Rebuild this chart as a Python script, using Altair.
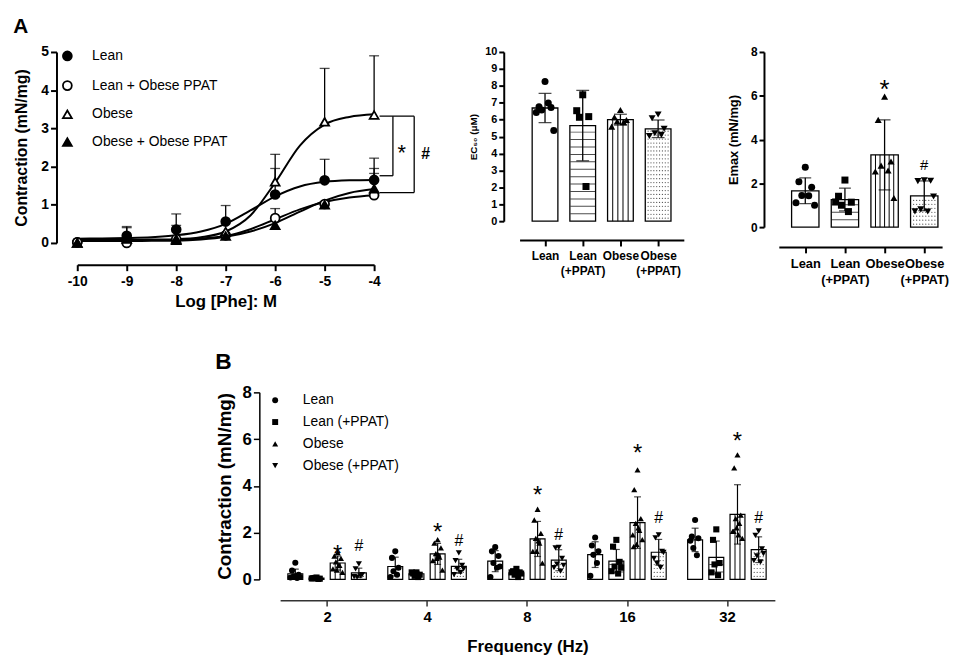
import altair as alt
import numpy as np
import pandas as pd

FONT = "Liberation Sans"

# ---------------- Panel A (left): concentration-response ----------------
dose = [-10, -9, -8, -7, -6, -5, -4]
series_A = ["Lean", "Lean + Obese PPAT", "Obese", "Obese +  Obese PPAT"]
lean_mean = [0.02, 0.19, 0.35, 0.56, 1.27, 1.64, 1.65]
lean_ppat_mean = [0.02, 0.00, 0.10, 0.20, 0.65, 1.02, 1.25]
obese_mean = [0.00, 0.15, 0.10, 0.30, 1.60, 3.17, 3.35]
obese_ppat_mean = [0.00, 0.10, 0.07, 0.18, 0.46, 1.00, 1.42]
lean_err = [None, 0.43, 0.76, 0.98, 1.95, 2.19, 2.22]
lean_ppat_err = [None, None, 0.46, None, 0.90, None, 1.82]
obese_err = [None, 0.40, None, None, 2.32, 4.57, 4.90]
obese_ppat_err = [None, None, None, None, None, None, 1.95]

fit_dose = [-10, -9.5, -9, -8.5, -8, -7.5, -7, -6.5, -6, -5.5, -5, -4.5, -4]
lean_fit = [0.11, 0.12, 0.13, 0.15, 0.20, 0.30, 0.50, 0.85, 1.22, 1.48, 1.60, 1.64, 1.65]
lean_ppat_fit = [0.07, 0.07, 0.07, 0.075, 0.08, 0.12, 0.18, 0.36, 0.62, 0.88, 1.07, 1.19, 1.25]
obese_fit = [0.08, 0.08, 0.08, 0.09, 0.10, 0.15, 0.30, 0.72, 1.58, 2.55, 3.10, 3.30, 3.37]
obese_ppat_fit = [0.05, 0.05, 0.05, 0.055, 0.06, 0.09, 0.16, 0.30, 0.52, 0.82, 1.11, 1.31, 1.41]

bracket_levels = [3.32, 1.76, 1.32]  # Obese / Lean / Obese + Obese PPAT at 10^-4 M

# ---------------- Panel A (middle / right): EC50 and Emax ----------------
cats = ["Lean", "Lean (+PPAT)", "Obese", "Obese (+PPAT)"]

ec50_lean = [8.25, 6.76, 6.72, 6.57, 6.98, 6.43, 5.36]
ec50_lean_ppat = [7.47, 6.53, 6.18, 6.14, 2.05]
ec50_obese = [6.57, 6.14, 5.98, 5.89, 5.85, 5.59]
ec50_obese_ppat = [6.30, 6.08, 5.46, 5.20, 5.10, 5.03]
ec50_mean = [6.69, 5.65, 6.00, 5.46]
ec50_sd = [0.86, 2.08, 0.32, 0.52]

emax_lean = [2.74, 2.07, 1.82, 1.45, 1.43, 1.11, 1.00]
emax_lean_ppat = [2.15, 1.41, 1.14, 1.00, 0.71, 1.15]
emax_obese = [5.96, 4.90, 3.00, 2.81, 2.59, 2.54, 1.33]
emax_obese_ppat = [2.14, 2.10, 2.12, 0.81, 0.71, 0.72, 1.40]
emax_mean = [1.66, 1.26, 3.30, 1.43]
emax_sd = [0.59, 0.52, 1.60, 0.68]
emax_star = [None, None, 6.6, None]
emax_hash = [None, None, None, 2.82]

# ---------------- Panel B: frequency response ----------------
freqs = ["2", "4", "8", "16", "32"]
series_B = ["Lean", "Lean (+PPAT)", "Obese", "Obese (+PPAT)"]
b_lean_pts = [[0.71, 0.38, 0.20, 0.12, 0.06, 0.08, 0.10],
              [1.20, 0.92, 0.50, 0.35, 0.20, 0.10],
              [1.38, 1.20, 1.00, 0.70, 0.50, 0.10, 0.55],
              [1.79, 1.45, 1.20, 1.05, 0.70, 0.15],
              [2.54, 1.83, 1.76, 1.34, 1.03, 1.65]]
b_lean_ppat_pts = [[0.08, 0.05, 0.03, 0.06, 0.02, 0.04],
                   [0.30, 0.25, 0.20, 0.15, 0.10, 0.30],
                   [0.45, 0.35, 0.30, 0.20, 0.10, 0.30, 0.25],
                   [1.69, 1.40, 0.75, 0.55, 0.25, 0.35, 0.50],
                   [2.14, 1.69, 0.70, 0.64, 0.18, 0.30]]
b_obese_pts = [[1.15, 1.00, 0.90, 0.75, 0.60, 0.45, 0.30, 0.40, 0.60],
               [1.70, 1.55, 1.35, 1.10, 0.95, 0.80, 0.40, 0.90, 1.05],
               [3.00, 2.54, 1.97, 1.75, 1.55, 1.20, 0.70, 1.20, 1.65],
               [4.68, 3.84, 2.60, 2.40, 2.10, 1.90, 1.70, 1.50, 2.20, 1.40],
               [5.33, 4.77, 2.75, 2.60, 2.40, 2.05, 1.75, 2.20, 1.90, 2.05]]
b_obese_ppat_pts = [[0.66, 0.45, 0.20, 0.10, 0.15, 0.12],
                    [1.13, 0.80, 0.60, 0.45, 0.30, 0.20, 0.45],
                    [1.37, 1.35, 0.90, 0.65, 0.35, 0.50, 0.60],
                    [1.90, 1.78, 1.20, 0.70, 0.50, 0.90, 1.15],
                    [2.07, 1.88, 1.30, 1.00, 0.75, 0.80, 1.10]]
b_lean_mean = [0.24, 0.55, 0.78, 1.06, 1.69]
b_lean_ppat_mean = [0.05, 0.24, 0.28, 0.78, 0.94]
b_obese_mean = [0.70, 1.09, 1.73, 2.43, 2.78]
b_obese_ppat_mean = [0.28, 0.56, 0.82, 1.16, 1.27]
b_lean_sd = [0.20, 0.40, 0.45, 0.55, 0.50]
b_lean_ppat_sd = [0.03, 0.08, 0.12, 0.50, 0.70]
b_obese_sd = [0.30, 0.45, 0.75, 1.10, 1.27]
b_obese_ppat_sd = [0.20, 0.30, 0.45, 0.55, 0.55]
b_star = [1.34, 2.26, 3.85, 5.64, 6.16]   # '*' above Obese
b_hash = [1.41, 1.65, 1.90, 2.64, 2.61]   # '#' above Obese (+PPAT)


# ======================================================================
def ax(**kw):
    base = dict(domainColor="black", domainWidth=2, tickColor="black", tickWidth=2,
                tickSize=6, labelFont=FONT, labelFontWeight="bold", labelColor="black",
                labelPadding=2, titleFont=FONT, titleFontWeight="bold", titleColor="black",
                grid=False, labelFlush=False, labelOverlap=False)
    base.update(kw)
    return alt.Axis(**base)


def indep(ch):
    return ch.resolve_scale(shape="independent", fill="independent",
                            stroke="independent").resolve_legend(
        shape="independent", fill="independent", stroke="independent")


JIT = [0.0, -0.55, 0.55, -0.3, 0.3, -0.8, 0.8, -0.15, 0.15, -0.65, 0.65]


def pattern_frames(positions, tops, kinds, hw, ppx, ppy):
    """decorative fill patterns of the bars, in data units"""
    h, v, d = [], [], []
    for p, t, k in zip(positions, tops, kinds):
        if k == "h":
            sp = 7.5 / ppy
            for lv in np.arange(sp, t - 0.3 * sp, sp):
                h.append({"px": p, "py": lv})
        elif k == "v":
            n = max(2, int(round(2 * hw * ppx / 5.0)) - 1)
            for xv in np.linspace(p - hw, p + hw, n + 2)[1:-1]:
                v.append({"vx": xv, "vtop": t})
        elif k == "d":
            nx = max(2, int(2 * hw * ppx / 3.2))
            for xv in np.linspace(p - hw, p + hw, nx + 2)[1:-1]:
                for yv in np.arange(3.0 / ppy, t - 1.5 / ppy, 4.0 / ppy):
                    d.append({"dx": xv, "dy": yv})
    return pd.DataFrame(h), pd.DataFrame(v), pd.DataFrame(d)


# ---------------------------- Panel A1 ----------------------------
rows = []
for g, ms, es in zip(series_A, [lean_mean, lean_ppat_mean, obese_mean, obese_ppat_mean],
                     [lean_err, lean_ppat_err, obese_err, obese_ppat_err]):
    for d, m, e in zip(dose, ms, es):
        rows.append({"dose": d, "val": m, "err": e, "grp": g})
dfA = pd.DataFrame(rows)
dfA["err"] = dfA["err"].astype(float)
fit_rows = []
for g, fs in zip(series_A, [lean_fit, lean_ppat_fit, obese_fit, obese_ppat_fit]):
    for d, f in zip(fit_dose, fs):
        fit_rows.append({"dose": d, "val": f, "grp": g})
dfFit = pd.DataFrame(fit_rows)

scXA = alt.Scale(domain=[-10, -4], nice=False, zero=False)
scYA = alt.Scale(domain=[0, 5], nice=False, zero=False)
axXA = ax(values=dose, labelExpr="'' + datum.value", title="Log [Phe]: M", offset=22,
          labelFontSize=14, titleFontSize=17, titlePadding=5, labelPadding=4)
axYA = ax(values=[0, 1, 2, 3, 4, 5], title="Contraction (mN/mg)", offset=21,
          labelFontSize=14, titleFontSize=16, titlePadding=12)


def XA(f):
    return alt.X(f, type="quantitative", scale=scXA, axis=axXA)


def YA(f):
    return alt.Y(f, type="quantitative", scale=scYA, axis=axYA)


legA = alt.Legend(title=None, orient="none", legendX=-17, legendY=-3, labelFont=FONT,
                  labelFontSize=14, labelColor="black", symbolSize=80, symbolStrokeWidth=1.8,
                  symbolStrokeColor="black", rowPadding=12, labelOffset=18, padding=0)

fitL = alt.Chart(dfFit).mark_line(interpolate="monotone", color="black", strokeWidth=2).encode(
    x=XA("dose"), y=YA("val"), detail="grp:N")
errL = alt.Chart(dfA).transform_filter("isValid(datum.err)").mark_rule(
    color="black", strokeWidth=1.3).encode(x=XA("dose"), y=YA("val"), y2="err:Q")
capL = alt.Chart(dfA).transform_filter("isValid(datum.err)").mark_tick(
    orient="horizontal", size=10, thickness=1.3, color="black").encode(x=XA("dose"), y=YA("err"))
ptsL = alt.Chart(dfA).mark_point(filled=False, size=80, strokeWidth=1.8,
                                 opacity=1).encode(
    x=XA("dose"), y=YA("val"),
    shape=alt.Shape("grp:N", scale=alt.Scale(domain=series_A,
                    range=["circle", "circle", "triangle-up", "triangle-up"]), legend=legA),
    fill=alt.Fill("grp:N", scale=alt.Scale(domain=series_A,
                  range=["black", "white", "white", "black"]), legend=legA),
    stroke=alt.Stroke("grp:N", scale=alt.Scale(domain=series_A,
                      range=["black", "black", "black", "black"]), legend=legA))

last = dose[-1]
top, b1, b2 = bracket_levels
dfBr = pd.DataFrame([
    {"bx": last + 0.11, "bx2": last + 0.81, "by": top, "by2": top},
    {"bx": last + 0.38, "bx2": last + 0.38, "by": top, "by2": b1},
    {"bx": last + 0.11, "bx2": last + 0.38, "by": b1, "by2": b1},
    {"bx": last + 0.81, "bx2": last + 0.81, "by": top, "by2": b2},
    {"bx": last + 0.11, "bx2": last + 0.81, "by": b2, "by2": b2},
])
brL = alt.Chart(dfBr).mark_rule(color="black", strokeWidth=1.3).encode(
    x=XA("bx"), x2="bx2:Q", y=YA("by"), y2="by2:Q")
dfStarA = pd.DataFrame([{"tx": last + 0.56, "ty": (top + b1) / 2, "t": "*"}])
dfHashA = pd.DataFrame([{"tx": last + 1.04, "ty": (top + b2) / 2, "t": "#"}])
starA = alt.Chart(dfStarA).mark_text(font=FONT, fontSize=22, dy=7, color="black").encode(
    x=XA("tx"), y=YA("ty"), text="t:N")
hashA = alt.Chart(dfHashA).mark_text(font=FONT, fontSize=16, fontWeight="bold",
                                     color="black").encode(x=XA("tx"), y=YA("ty"), text="t:N")

A1 = alt.layer(fitL, errL, capL, ptsL, brL, starA, hashA).properties(
    width=300, height=193,
    title=alt.TitleParams("A", anchor="start", frame="bounds", font=FONT, fontSize=21,
                          fontWeight="bold", color="black", offset=8))


# ---------------------- bar panels (EC50, Emax) ----------------------
def bar_panel(pts_lists, means, sds, xdom, width, height, ydom, yticks, ytitle, ytitle_size,
              tick_font, x_font, hw, cap, offset_y, offset_x, shape_field, star=None,
              hashes=None, ytitle_pad=4, pt_size=50):
    ppx = width / (xdom[1] - xdom[0])
    ppy = height / (ydom[1] - ydom[0])
    pos = [1, 2, 3, 4]
    dfb = pd.DataFrame({"pos": pos, "mean": means, "sd": sds, "cat": cats})
    dfb["lo"] = dfb["pos"] - hw
    dfb["hi"] = dfb["pos"] + hw
    dfb["elo"] = dfb["mean"] - dfb["sd"]
    dfb["ehi"] = dfb["mean"] + dfb["sd"]
    prow = []
    for p, c, lst in zip(pos, cats, pts_lists):
        for i, v in enumerate(lst):
            prow.append({"px": p + JIT[i % len(JIT)] * hw * 0.85, "val": v, shape_field: c})
    dfp = pd.DataFrame(prow)

    lab_expr = ("datum.value == 1 ? 'Lean' : datum.value == 2 ? ['Lean', '(+PPAT)'] : "
                "datum.value == 3 ? 'Obese' : ['Obese', '(+PPAT)']")
    scx = alt.Scale(domain=xdom, nice=False, zero=False)
    scy = alt.Scale(domain=ydom, nice=False, zero=False)
    axx = ax(values=pos, labelExpr=lab_expr, title=None, offset=offset_x,
             labelFontSize=x_font, labelLineHeight=x_font + 3, labelPadding=5)
    axy = ax(values=yticks, title=ytitle, offset=offset_y, labelFontSize=tick_font,
             titleFontSize=ytitle_size, tickSize=5, titlePadding=ytitle_pad)

    def X(f):
        return alt.X(f, type="quantitative", scale=scx, axis=axx)

    def Y(f):
        return alt.Y(f, type="quantitative", scale=scy, axis=axy)

    bars = alt.Chart(dfb).mark_bar(fill="white", stroke="black", strokeWidth=1.3).encode(
        x=X("lo"), x2="hi:Q", y=Y("mean"), y2=alt.datum(0))
    dh, dv, dd = pattern_frames(pos, means, ["", "h", "v", "d"], hw, ppx, ppy)
    layers = [bars]
    layers.append(alt.Chart(dh).mark_tick(orient="horizontal", size=2 * hw * ppx - 1,
                                          thickness=1, color="black").encode(
        x=X("px"), y=Y("py")))
    layers.append(alt.Chart(dv).mark_rule(color="black", strokeWidth=1).encode(
        x=X("vx"), y=Y("vtop"), y2=alt.datum(0)))
    layers.append(alt.Chart(dd).mark_circle(size=1.6, color="#555", opacity=1).encode(
        x=X("dx"), y=Y("dy")))
    layers.append(alt.Chart(dfb).mark_rule(color="black", strokeWidth=1.3).encode(
        x=X("pos"), y=Y("elo"), y2="ehi:Q"))
    layers.append(alt.Chart(dfb).mark_tick(orient="horizontal", size=cap, thickness=1.3,
                                           color="black").encode(x=X("pos"), y=Y("ehi")))
    layers.append(alt.Chart(dfb).mark_tick(orient="horizontal", size=cap, thickness=1.3,
                                           color="black").encode(x=X("pos"), y=Y("elo")))
    layers.append(alt.Chart(dfp).mark_point(filled=True, size=pt_size, color="black",
                                            opacity=1).encode(
        x=X("px"), y=Y("val"),
        shape=alt.Shape(shape_field + ":N", scale=alt.Scale(domain=cats, range=[
            "circle", "square", "triangle-up", "triangle-down"]), legend=None)))
    if star is not None:
        ds = pd.DataFrame({"pos": pos, "sy": star}).dropna()
        ds["t"] = "*"
        layers.append(alt.Chart(ds).mark_text(font=FONT, fontSize=26, dy=8,
                                              color="black").encode(
            x=X("pos"), y=Y("sy"), text="t:N"))
    if hashes is not None:
        dsh = pd.DataFrame({"pos": pos, "sy": hashes}).dropna()
        dsh["t"] = "#"
        layers.append(alt.Chart(dsh).mark_text(font=FONT, fontSize=15,
                                               color="black").encode(
            x=X("pos"), y=Y("sy"), text="t:N"))
    return alt.layer(*layers).properties(width=width, height=height)


A2 = bar_panel([ec50_lean, ec50_lean_ppat, ec50_obese, ec50_obese_ppat], ec50_mean, ec50_sd,
               [0.325, 4.682], 166, 171, [0, 10], list(range(11)), "EC\u2085\u2080 (\u03bcM)",
               10, 11, 12, 0.341, 13, 16, 19, "catE", ytitle_pad=6, pt_size=50)
A3 = bar_panel([emax_lean, emax_lean_ppat, emax_obese, emax_obese_ppat], emax_mean, emax_sd,
               [0.333, 4.45], 165, 177, [0, 8], [0, 2, 4, 6, 8], "Emax (mN/mg)",
               13, 12, 13, 0.345, 12, 15, 20, "catM", star=emax_star, hashes=emax_hash,
               ytitle_pad=10, pt_size=50)

# ---------------------------- Panel B ----------------------------
B_W = 500
B_H = 189
B_HW = 0.0746
B_OFF = [-0.318, -0.106, 0.106, 0.318]
ppxB = B_W / 4.95
ppyB = B_H / 8.0
brow, prow = [], []
kinds_B = ["", "h", "v", "d"]
for j, (g, mlist, slist, plist) in enumerate(zip(
        series_B, [b_lean_mean, b_lean_ppat_mean, b_obese_mean, b_obese_ppat_mean],
        [b_lean_sd, b_lean_ppat_sd, b_obese_sd, b_obese_ppat_sd],
        [b_lean_pts, b_lean_ppat_pts, b_obese_pts, b_obese_ppat_pts])):
    for i in range(len(freqs)):
        c = i + B_OFF[j]
        brow.append({"c": c, "lo": c - B_HW, "hi": c + B_HW, "mean": mlist[i],
                     "elo": max(mlist[i] - slist[i], 0), "ehi": mlist[i] + slist[i],
                     "grp": g, "kind": kinds_B[j]})
        for k, v in enumerate(plist[i]):
            prow.append({"px": c + JIT[k % len(JIT)] * B_HW * 0.8, "val": v, "grpB": g})
dfBb = pd.DataFrame(brow)
dfBp = pd.DataFrame(prow)

scXB = alt.Scale(domain=[-0.47, 4.48], nice=False, zero=False)
scYB = alt.Scale(domain=[0, 8], nice=False, zero=False)
axXB = ax(values=[0, 1, 2, 3, 4], labelExpr="['2','4','8','16','32'][datum.value]",
          title="Frequency (Hz)", offset=21, labelFontSize=15, titleFontSize=17,
          titlePadding=14, domainWidth=1.5, domainColor="#333", tickColor="#333",
          tickWidth=1.5, labelPadding=4)
axYB = ax(values=[0, 2, 4, 6, 8], title="Contraction (mN/mg)", offset=21,
          labelFontSize=17, titleFontSize=19, titlePadding=8, tickWidth=1.5,
          domainWidth=1.5)


def XB(f):
    return alt.X(f, type="quantitative", scale=scXB, axis=axXB)


def YB(f):
    return alt.Y(f, type="quantitative", scale=scYB, axis=axYB)


barsB = alt.Chart(dfBb).mark_bar(fill="white", stroke="black", strokeWidth=1.2).encode(
    x=XB("lo"), x2="hi:Q", y=YB("mean"), y2=alt.datum(0))
dh, dv, dd = pattern_frames(dfBb["c"], dfBb["mean"], dfBb["kind"], B_HW, ppxB, ppyB)
hB = alt.Chart(dh).mark_tick(orient="horizontal", size=2 * B_HW * ppxB - 1, thickness=1,
                             color="black").encode(x=XB("px"), y=YB("py"))
vB = alt.Chart(dv).mark_rule(color="black", strokeWidth=1).encode(
    x=XB("vx"), y=YB("vtop"), y2=alt.datum(0))
dB = alt.Chart(dd).mark_circle(size=1.5, color="#555", opacity=1).encode(
    x=XB("dx"), y=YB("dy"))
errB = alt.Chart(dfBb).mark_rule(color="black", strokeWidth=1.2).encode(
    x=XB("c"), y=YB("elo"), y2="ehi:Q")
capB1 = alt.Chart(dfBb).mark_tick(orient="horizontal", size=7, thickness=1.2,
                                  color="black").encode(x=XB("c"), y=YB("ehi"))
capB2 = alt.Chart(dfBb).mark_tick(orient="horizontal", size=7, thickness=1.2,
                                  color="black").encode(x=XB("c"), y=YB("elo"))
legB = alt.Legend(title=None, orient="none", legendX=-12, legendY=1, labelFont=FONT,
                  labelFontSize=14, labelColor="black", symbolSize=36,
                  symbolFillColor="black", symbolStrokeColor="black", symbolStrokeWidth=0,
                  rowPadding=8, labelOffset=21, padding=0)
ptsB = alt.Chart(dfBp).mark_point(filled=True, size=38, color="black", opacity=1).encode(
    x=XB("px"), y=YB("val"),
    shape=alt.Shape("grpB:N", scale=alt.Scale(domain=series_B, range=[
        "circle", "square", "triangle-up", "triangle-down"]), legend=legB))
dfSB = pd.DataFrame({"c": [i + B_OFF[2] for i in range(5)], "sy": b_star, "t": "*"})
dfHB = pd.DataFrame({"c": [i + B_OFF[3] for i in range(5)], "sy": b_hash, "t": "#"})
starB = alt.Chart(dfSB).mark_text(font=FONT, fontSize=24, dy=7, color="black").encode(
    x=XB("c"), y=YB("sy"), text="t:N")
hashB = alt.Chart(dfHB).mark_text(font=FONT, fontSize=16, color="black").encode(
    x=XB("c"), y=YB("sy"), text="t:N")

B = alt.layer(barsB, hB, vB, dB, errB, capB1, capB2, ptsB, starB, hashB).properties(
    width=B_W, height=B_H,
    title=alt.TitleParams("B", anchor="start", frame="bounds", font=FONT, fontSize=23,
                          fontWeight="bold", color="black", offset=10))

spacer = alt.Chart(pd.DataFrame({"s": [0]})).mark_point(opacity=0).encode(
    x=alt.X("s:Q", axis=None), y=alt.Y("s:Q", axis=None)).properties(width=139, height=10)

rowA = indep(alt.hconcat(A1, indep(alt.hconcat(A2, A3, spacing=44)), spacing=38))
rowB = indep(alt.hconcat(spacer, B, spacing=0))

chart = indep(alt.vconcat(rowA, rowB, spacing=42)).configure_view(stroke=None).properties(
    padding={"left": 5, "top": 5, "right": 2, "bottom": 0}, background="white")

chart.save("out.html", embed_options={"renderer": "svg", "actions": False})
